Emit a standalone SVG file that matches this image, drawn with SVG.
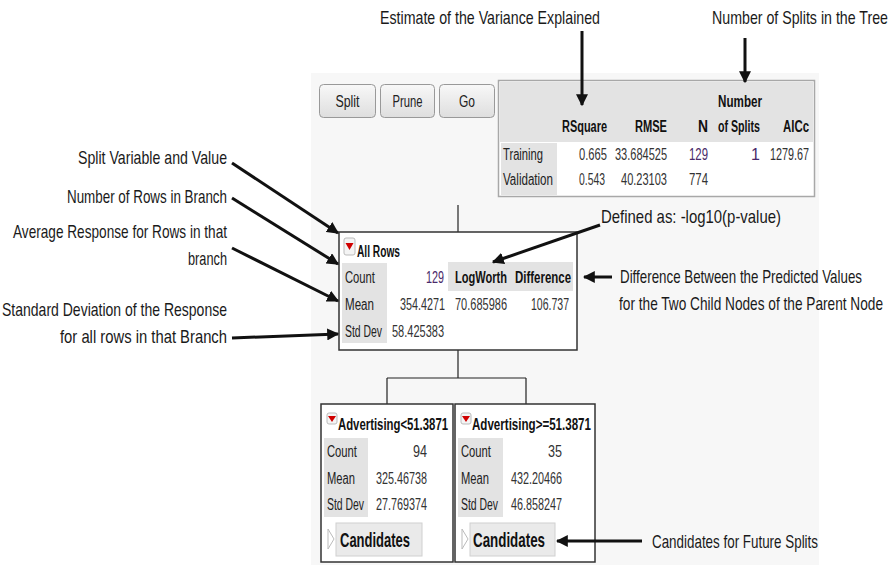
<svg xmlns="http://www.w3.org/2000/svg" width="892" height="565" viewBox="0 0 892 565">
<defs>
<marker id="ah" viewBox="0 0 10 10" refX="9" refY="5" markerWidth="4" markerHeight="4" orient="auto" markerUnits="strokeWidth">
<path d="M0,0 L10,5 L0,10 z" fill="#111"/>
</marker>
<linearGradient id="btn" x1="0" y1="0" x2="0" y2="1">
<stop offset="0" stop-color="#f8f8f8"/>
<stop offset="1" stop-color="#dedede"/>
</linearGradient>
</defs>
<style>
text{font-family:"Liberation Sans",Arial,sans-serif;}
.ann{font-size:19px;fill:#1a1a1a;}
.ui{font-size:16px;fill:#222;}
.num{font-size:16px;fill:#333;}
.pur{font-size:16px;fill:#4a2a6a;}
.b{font-size:16px;font-weight:bold;fill:#111;}
.cand{font-size:21px;font-weight:bold;fill:#111;}
.arrow{stroke:#111;stroke-width:3;fill:none;marker-end:url(#ah);}
.link{stroke:#222;stroke-width:1.2;fill:none;}
.node{fill:#ffffff;stroke:#333;stroke-width:1.5;}
.lab{fill:#e3e3e3;}
.btn{fill:url(#btn);stroke:#999;stroke-width:1;}
</style>

<rect x="0" y="0" width="892" height="565" fill="#ffffff"/>
<rect x="311" y="73" width="508" height="492" fill="#f7f7f7"/>

<g id="buttons">
<rect class="btn" x="319.5" y="84.5" width="56" height="33" rx="4"/>
<text class="ui" x="347.5" y="107" text-anchor="middle" textLength="24" lengthAdjust="spacingAndGlyphs">Split</text>
<rect class="btn" x="380.5" y="84.5" width="54" height="33" rx="4"/>
<text class="ui" x="407.5" y="107" text-anchor="middle" textLength="30" lengthAdjust="spacingAndGlyphs">Prune</text>
<rect class="btn" x="439.5" y="84.5" width="55" height="33" rx="4"/>
<text class="ui" x="467" y="107" text-anchor="middle" textLength="16" lengthAdjust="spacingAndGlyphs">Go</text>
</g>

<g id="fit-table">
<rect x="498.5" y="80.5" width="316" height="116" fill="#ffffff" stroke="#a8a8a8" stroke-width="1.5"/>
<rect x="500" y="82" width="313" height="60" fill="#e3e3e3"/>
<rect x="501" y="143" width="56" height="52" fill="#e3e3e3"/>
<text class="b" x="762" y="107" text-anchor="end" textLength="44" lengthAdjust="spacingAndGlyphs">Number</text>
<text class="b" x="607" y="132" text-anchor="end" textLength="45" lengthAdjust="spacingAndGlyphs">RSquare</text>
<text class="b" x="667" y="132" text-anchor="end" textLength="32" lengthAdjust="spacingAndGlyphs">RMSE</text>
<text class="b" x="708" y="132" text-anchor="end" textLength="10" lengthAdjust="spacingAndGlyphs">N</text>
<text class="b" x="760" y="132" text-anchor="end" textLength="42" lengthAdjust="spacingAndGlyphs">of Splits</text>
<text class="b" x="809" y="132" text-anchor="end" textLength="26" lengthAdjust="spacingAndGlyphs">AICc</text>
<text class="ui" x="503" y="160" textLength="40" lengthAdjust="spacingAndGlyphs">Training</text>
<text class="ui" x="503" y="185" textLength="50" lengthAdjust="spacingAndGlyphs">Validation</text>
<text class="num" x="607" y="160" text-anchor="end" textLength="28" lengthAdjust="spacingAndGlyphs">0.665</text>
<text class="num" x="667" y="160" text-anchor="end" textLength="52" lengthAdjust="spacingAndGlyphs">33.684525</text>
<text class="pur" x="708" y="160" text-anchor="end" textLength="19" lengthAdjust="spacingAndGlyphs">129</text>
<text class="pur" x="760" y="160" text-anchor="end">1</text>
<text class="num" x="809" y="160" text-anchor="end" textLength="39" lengthAdjust="spacingAndGlyphs">1279.67</text>
<text class="num" x="605" y="185" text-anchor="end" textLength="26" lengthAdjust="spacingAndGlyphs">0.543</text>
<text class="num" x="667" y="185" text-anchor="end" textLength="46" lengthAdjust="spacingAndGlyphs">40.23103</text>
<text class="num" x="708" y="185" text-anchor="end" textLength="19" lengthAdjust="spacingAndGlyphs">774</text>
</g>

<g id="connectors">
<path class="link" d="M458,205 V232"/>
<path class="link" d="M458,350 V378 M387,378 H526 M387,378 V404 M526,378 V404"/>
</g>

<g id="node-all-rows">
<rect class="node" x="339" y="232" width="238" height="118"/>
<rect x="344" y="238" width="11" height="17" rx="2" fill="#f4f4f4" stroke="#bbb" stroke-width="1"/>
<path d="M345.5,243 L353.5,243 L349.5,250 z" fill="#d00000"/>
<text class="b" x="357" y="257" textLength="43" lengthAdjust="spacingAndGlyphs">All Rows</text>
<rect class="lab" x="342" y="263" width="45" height="80"/>
<rect class="lab" x="448" y="262" width="125" height="29"/>
<text class="ui" x="345" y="283" textLength="30" lengthAdjust="spacingAndGlyphs">Count</text>
<text class="ui" x="345" y="310" textLength="29" lengthAdjust="spacingAndGlyphs">Mean</text>
<text class="ui" x="345" y="337" textLength="37" lengthAdjust="spacingAndGlyphs">Std Dev</text>
<text class="pur" x="444" y="283" text-anchor="end" textLength="18" lengthAdjust="spacingAndGlyphs">129</text>
<text class="num" x="445" y="310" text-anchor="end" textLength="45" lengthAdjust="spacingAndGlyphs">354.4271</text>
<text class="num" x="444" y="337" text-anchor="end" textLength="52" lengthAdjust="spacingAndGlyphs">58.425383</text>
<text class="b" x="455" y="283" textLength="52" lengthAdjust="spacingAndGlyphs">LogWorth</text>
<text class="b" x="515" y="283" textLength="56" lengthAdjust="spacingAndGlyphs">Difference</text>
<text class="num" x="455" y="310" textLength="52" lengthAdjust="spacingAndGlyphs">70.685986</text>
<text class="num" x="569" y="310" text-anchor="end" textLength="38" lengthAdjust="spacingAndGlyphs">106.737</text>
</g>

<g id="node-left">
<rect class="node" x="321" y="404" width="132" height="158"/>
<rect x="327" y="413" width="10" height="11" rx="2" fill="#f4f4f4" stroke="#bbb" stroke-width="1"/>
<path d="M328,416 L336,416 L332,422 z" fill="#d00000"/>
<text class="b" x="338" y="430" textLength="110" lengthAdjust="spacingAndGlyphs">Advertising&lt;51.3871</text>
<rect class="lab" x="324" y="438" width="44" height="79"/>
<text class="ui" x="327" y="457" textLength="30" lengthAdjust="spacingAndGlyphs">Count</text>
<text class="ui" x="327" y="484" textLength="28" lengthAdjust="spacingAndGlyphs">Mean</text>
<text class="ui" x="327" y="510" textLength="37" lengthAdjust="spacingAndGlyphs">Std Dev</text>
<text class="num" x="427" y="457" text-anchor="end" textLength="14" lengthAdjust="spacingAndGlyphs">94</text>
<text class="num" x="427" y="484" text-anchor="end" textLength="51" lengthAdjust="spacingAndGlyphs">325.46738</text>
<text class="num" x="427" y="510" text-anchor="end" textLength="51" lengthAdjust="spacingAndGlyphs">27.769374</text>
<path d="M328,529 L334,539 L328,549 z" fill="none" stroke="#bbb" stroke-width="1"/>
<rect x="336" y="523" width="86" height="33" fill="#eaeaea" stroke="#d0d0d0" stroke-width="1"/>
<text class="cand" x="340" y="547" textLength="70" lengthAdjust="spacingAndGlyphs">Candidates</text>
</g>

<g id="node-right">
<rect class="node" x="455" y="404" width="140" height="158"/>
<rect x="461" y="413" width="10" height="11" rx="2" fill="#f4f4f4" stroke="#bbb" stroke-width="1"/>
<path d="M462,416 L470,416 L466,422 z" fill="#d00000"/>
<text class="b" x="472" y="430" textLength="119" lengthAdjust="spacingAndGlyphs">Advertising&gt;=51.3871</text>
<rect class="lab" x="458" y="438" width="45" height="79"/>
<text class="ui" x="461" y="457" textLength="30" lengthAdjust="spacingAndGlyphs">Count</text>
<text class="ui" x="461" y="484" textLength="28" lengthAdjust="spacingAndGlyphs">Mean</text>
<text class="ui" x="461" y="510" textLength="37" lengthAdjust="spacingAndGlyphs">Std Dev</text>
<text class="num" x="562" y="457" text-anchor="end" textLength="14" lengthAdjust="spacingAndGlyphs">35</text>
<text class="num" x="562" y="484" text-anchor="end" textLength="51" lengthAdjust="spacingAndGlyphs">432.20466</text>
<text class="num" x="562" y="510" text-anchor="end" textLength="51" lengthAdjust="spacingAndGlyphs">46.858247</text>
<path d="M462,529 L468,539 L462,549 z" fill="none" stroke="#bbb" stroke-width="1"/>
<rect x="470" y="523" width="85" height="33" fill="#eaeaea" stroke="#d0d0d0" stroke-width="1"/>
<text class="cand" x="473" y="547" textLength="72" lengthAdjust="spacingAndGlyphs">Candidates</text>
</g>

<g id="annotations">
<text class="ann" x="380" y="24" textLength="220" lengthAdjust="spacingAndGlyphs">Estimate of the Variance Explained</text>
<text class="ann" x="712" y="24" textLength="176" lengthAdjust="spacingAndGlyphs">Number of Splits in the Tree</text>
<text class="ann" x="227" y="164" text-anchor="end" textLength="149" lengthAdjust="spacingAndGlyphs">Split Variable and Value</text>
<text class="ann" x="227" y="203" text-anchor="end" textLength="160" lengthAdjust="spacingAndGlyphs">Number of Rows in Branch</text>
<text class="ann" x="227" y="238" text-anchor="end" textLength="214" lengthAdjust="spacingAndGlyphs">Average Response for Rows in that</text>
<text class="ann" x="227" y="265" text-anchor="end" textLength="39" lengthAdjust="spacingAndGlyphs">branch</text>
<text class="ann" x="227" y="316" text-anchor="end" textLength="225" lengthAdjust="spacingAndGlyphs">Standard Deviation of the Response</text>
<text class="ann" x="227" y="343" text-anchor="end" textLength="167" lengthAdjust="spacingAndGlyphs">for all rows in that Branch</text>
<text class="ann" x="601" y="223" textLength="180" lengthAdjust="spacingAndGlyphs">Defined as: -log10(p-value)</text>
<text class="ann" x="620" y="283" textLength="242" lengthAdjust="spacingAndGlyphs">Difference Between the Predicted Values</text>
<text class="ann" x="619" y="310" textLength="264" lengthAdjust="spacingAndGlyphs">for the Two Child Nodes of the Parent Node</text>
<text class="ann" x="652" y="548" textLength="166" lengthAdjust="spacingAndGlyphs">Candidates for Future Splits</text>
</g>

<g id="arrows">
<path class="arrow" d="M582,31 V105"/>
<path class="arrow" d="M745,38 V82"/>
<path class="arrow" d="M232,163 L338,233"/>
<path class="arrow" d="M232,198 L338,264"/>
<path class="arrow" d="M232,248 L338,301"/>
<path class="arrow" d="M232,338 L338,334"/>
<path class="arrow" d="M600,225 L493,262"/>
<path class="arrow" d="M612,277 L584,277"/>
<path class="arrow" d="M642,541 L557,541"/>
</g>
</svg>
